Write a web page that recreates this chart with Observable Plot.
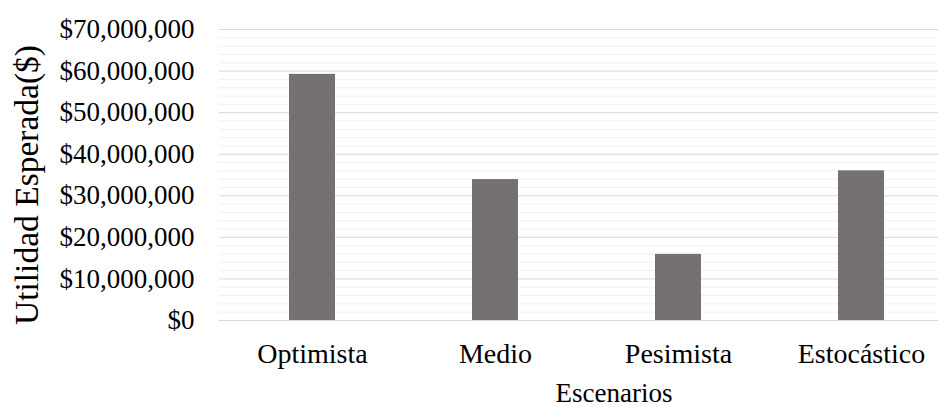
<!DOCTYPE html>
<html>
<head>
<meta charset="utf-8">
<script src="https://cdn.jsdelivr.net/npm/d3@7"></script>
<script src="https://cdn.jsdelivr.net/npm/@observablehq/plot@0.6"></script>
<style>
  body { margin: 0; background: #fff; }
  svg { display: block; }
</style>
</head>
<body>
<div id="chart"></div>
<script>
// Escenarios y utilidad esperada de cada uno
const escenarios = ["Optimista", "Medio", "Pesimista", "Estocástico"];
const utilidad = [59200000, 33900000, 15900000, 36000000];

// Líneas de cuadrícula principales (con etiqueta) y secundarias
const majorTicks = [0, 10000000, 20000000, 30000000, 40000000, 50000000, 60000000, 70000000];
const minorTicks = [
  2000000, 4000000, 6000000, 8000000,
  12000000, 14000000, 16000000, 18000000,
  22000000, 24000000, 26000000, 28000000,
  32000000, 34000000, 36000000, 38000000,
  42000000, 44000000, 46000000, 48000000,
  52000000, 54000000, 56000000, 58000000,
  62000000, 64000000, 66000000, 68000000
];

const data = escenarios.map((e, i) => ({escenario: e, utilidad: utilidad[i]}));
const fmt = d => "$" + d3.format(",")(d);

const chart = Plot.plot({
  width: 938,
  height: 407,
  marginLeft: 219,
  marginRight: 0,
  marginTop: 29,
  marginBottom: 87,
  style: {
    fontFamily: "'Liberation Serif', 'Times New Roman', serif",
    color: "#000",
    background: "#fff"
  },
  x: {domain: escenarios, range: [219, 953.5], paddingInner: 0.75, paddingOuter: 0.375},
  y: {domain: [0, 70000000]},
  marks: [
    Plot.ruleY(minorTicks, {stroke: "#f0f0f0", strokeWidth: 1}),
    Plot.ruleY(majorTicks, {stroke: "#d9d9d9", strokeWidth: 1}),
    Plot.barY(data, {x: "escenario", y: "utilidad", fill: "#767171"}),
    Plot.axisY(majorTicks, {tickSize: 0, tickPadding: 25, tickFormat: fmt, fontSize: 27, label: null}),
    Plot.axisX({tickSize: 0, tickPadding: 23, fontSize: 28, label: null}),
    Plot.text(["Escenarios"], {frameAnchor: "bottom", dx: 35, dy: 81, lineAnchor: "bottom", fontSize: 27}),
    Plot.text(["Utilidad Esperada($)"], {
      frameAnchor: "left", textAnchor: "middle", lineAnchor: "middle",
      rotate: -90, dx: -192, dy: 10, fontSize: 33.5
    })
  ]
});

document.getElementById("chart").appendChild(chart);
</script>
</body>
</html>
